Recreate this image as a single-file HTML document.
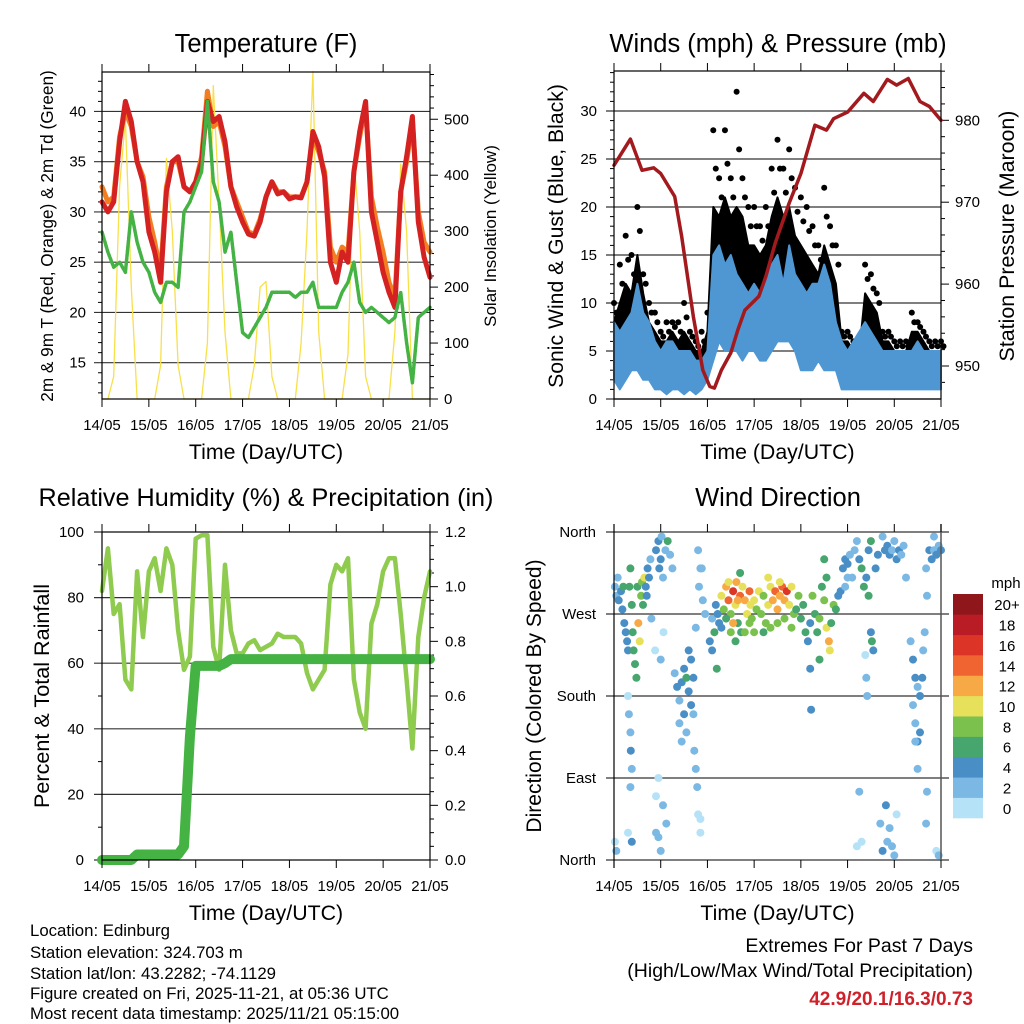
<!DOCTYPE html>
<html><head><meta charset="utf-8">
<style>
html,body{margin:0;padding:0;background:#fff;}
svg{display:block;font-family:"Liberation Sans",sans-serif;}
</style></head>
<body>
<svg id="fig" width="1024" height="1024" viewBox="0 0 1024 1024" xmlns="http://www.w3.org/2000/svg">
<rect x="0" y="0" width="1024" height="1024" fill="#fff"/>
<g id="p1"></g>
<g id="p2"></g>
<g id="p3"></g>
<g id="p4"></g>
<g id="txt">
<text x="30" y="936" font-size="16.8">Location: Edinburg</text>
<text x="30" y="958" font-size="16.8">Station elevation: 324.703 m</text>
<text x="30" y="979" font-size="16.8">Station lat/lon: 43.2282; -74.1129</text>
<text x="30" y="999" font-size="16.8">Figure created on Fri, 2025-11-21, at 05:36 UTC</text>
<text x="30" y="1019" font-size="16.8">Most recent data timestamp: 2025/11/21 05:15:00</text>
<text x="973" y="952" font-size="19.5" text-anchor="end">Extremes For Past 7 Days</text>
<text x="973" y="977" font-size="19.5" text-anchor="end">(High/Low/Max Wind/Total Precipitation)</text>
<text x="973" y="1005" font-size="19" font-weight="bold" fill="#d0202a" text-anchor="end">42.9/20.1/16.3/0.73</text>
</g>
</svg>
<script>
// ---------- data (3-hourly samples, day index 0..7) ----------
const dayLabels = ["14/05","15/05","16/05","17/05","18/05","19/05","20/05","21/05"];
const tempRed = [31,30,31,37,41,39,35,33, 28,26,23,32,35,35.5,32.5,32, 33,35,41,39,39.5,37,32.5,30.5, 29,27.8,27.6,29,31.5,33,31.8,32, 31.3,31.5,31.4,33,38,36.5,33.5,25, 23,26,25,34,38,41,30,27, 24,22,20.5,32,35.5,39.5,29,25.5,23.5];
const tempOrange = [32.5,31,31.5,37.5,40,38.5,35,33.5, 29.5,27,24,32.5,35,35,32.5,32, 33,35.5,42,38.5,39,36.5,32.5,31, 29.5,28,27.8,29.3,31.5,33,32,32, 31.5,31.5,31.5,33,37.5,36,34,26.5, 25,26.5,26,34,37.5,40.5,31.5,28.5, 26,23,21.5,32,35,39,30,27,26];
const dewGreen = [28,26,24.5,25,24,30,27,25, 24,22,21,23,23,22.5,30,31, 32.5,34,41,33,31,26,28,23, 18,17.5,18.5,19.5,20.5,22,22,22, 22,21.5,22,22,23,20.5,20.5,20.5, 20.5,22,23,25,21,20,20.5,20, 19.5,19,19.5,22,17,13,19.5,20,20.5];
const solar = [0,0,40,380,500,200,0,0, 0,0,60,430,300,60,0,0, 0,0,100,560,350,120,0,0, 0,0,60,200,210,40,0,0, 0,0,100,300,585,120,0,0, 0,0,80,430,300,40,0,0, 0,0,120,420,300,0,0,0,0];
const tempTicks = [15,20,25,30,35,40];
const solarTicks = [0,100,200,300,400,500];

const presT = [0,0.35,0.6,0.85,1.0,1.3,1.45,1.7,1.9,2.05,2.15,2.3,2.5,2.65,2.8,3.1,3.25,3.45,3.75,4.0,4.3,4.55,4.7,5.0,5.35,5.55,5.85,6.05,6.3,6.55,6.75,7.0];
const presV = [974.5,977.7,973.9,974.2,973.5,970.7,965.8,956,949.5,947.5,947.3,949.5,951.6,954.4,956.8,958.5,960.9,965,969.9,973.5,979.4,978.8,980.2,981,983.3,982.3,985,984.3,985.1,982.3,981.7,980];
const windLo = [2,1,2,3,3,2,2,1, 1,0.5,1,1,0.5,1,0.5,1, 2,4,6,5,5,5,4,5, 5,4,4,5,6,6,6,5, 3,3,3,4,3,3,3,1, 1,1,1,1,1,1,1,1, 1,1,1,1,1,1,1,1,1];
const windHi = [8,7,8,9,12,9,8,6, 5,6,6,5,5,5,4,4, 5,15,16,14,15,13,12,11, 12,11,12,14,15,12,16,13, 12,11,12,12,14,12,8,6, 5,6,7,8,7,6,5,5, 5,5,5,5,6,5,5,5,5];
const gustLo = [5,6,6,8,10,7,5,4, 4,3,4,3,3,3,2,3, 4,8,10,10,10,10,10,9, 8,7,8,9,10,10,10,9, 8,7,7,7,8,7,6,4, 4,3,3,6,5,5,4,4, 4,4,4,4,4,4,4,4,4];
const gustMid = [8,10,12,11,15,11,8,7, 6,6,7,6,7,6,5,5, 7,20,19,21,19,20,19,16, 16,15,16,19,21,19,20,17, 16,15,14,13,16,14,12,6, 6,5,5,11,10,9,6,6, 5,5,5,7,7,6,5,5,5];
const gustHi = [10,14,17,15,20,13,10,9, 7,8,8,8,10,7,6,7, 9,28,23,28,23,32,23,20, 20,18,20,24,27,24,26,22, 21,20,18,16,22,18,16,7, 7,6,6,14,13,11,7,7, 6,6,6,9,8,7,6,6,6];
const windTicks = [0,5,10,15,20,25,30];
const presTicks = [950,960,970,980];

const rh = [82,95,75,78,55,52,88,68, 88,92,82,95,90,70,58,62, 98,99,99,65,58,90,70,63, 63,66,67,64,65,66,69,68, 68,68,66,57,52,55,58,84, 90,88,92,55,45,40,72,78, 88,92,92,75,55,34,68,80,88];
const precip = [0,0,0,0,0,0,0.02,0.02, 0.02,0.02,0.02,0.02,0.02,0.02,0.05,0.45, 0.71,0.71,0.71,0.71,0.71,0.72,0.735,0.735, 0.735,0.735,0.735,0.735,0.735,0.735,0.735,0.735, 0.735,0.735,0.735,0.735,0.735,0.735,0.735,0.735, 0.735,0.735,0.735,0.735,0.735,0.735,0.735,0.735, 0.735,0.735,0.735,0.735,0.735,0.735,0.735,0.735,0.735];
const rhTicks = [0,20,40,60,80,100];
const prTicks = ["0.0","0.2","0.4","0.6","0.8","1.0","1.2"];

const dirT = [0.02,0.05,0.08,0.1,0.15,0.18,0.2,0.22,0.25,0.28,0.3,0.33,0.35,0.38,0.4,0.42,0.45,0.48,0.5,0.52,0.55,0.58,0.6,0.62,0.65,0.68,0.7,0.72,0.75,0.78,0.8,0.9,0.95,0.97,1.0,1.02,1.05,1.1,1.15,1.2,1.25,
0.02,0.05,0.3,0.32,0.35,0.36,0.38,0.35,0.3,0.38,0.9,0.95,1.0,0.9,0.95,1.05,1.12,0.88,1.06,1.0,
1.3,1.35,1.4,1.45,1.5,1.55,1.6,1.65,1.4,1.45,1.5,1.55,1.6,1.65,1.7,1.7,1.72,1.75,1.78,1.8,1.85,1.85,1.8,1.82,1.88,1.9,1.95,1.75,1.85,
2.05,2.1,2.15,2.2,2.25,2.1,2.18,2.22,2.3,
2.3,2.35,2.4,2.45,2.5,2.55,2.6,2.62,2.65,2.7,2.72,2.75,2.8,2.85,2.9,2.92,2.95,3.0,3.05,3.1,2.4,2.5,2.6,2.7,2.8,2.9,3.0,2.45,2.55,2.65,
3.15,3.2,3.25,3.3,3.35,3.4,3.45,3.5,3.55,3.6,3.65,3.7,3.75,3.8,3.85,3.2,3.35,3.5,3.65,3.8,3.9,3.95,3.3,3.55,
4.0,4.05,4.1,4.15,4.2,4.25,4.3,4.35,4.4,4.45,4.5,4.55,4.6,4.62,4.65,4.7,4.75,4.8,4.85,4.2,4.22,4.5,4.4,4.55,
4.9,4.95,5.0,5.05,5.1,5.15,5.2,5.25,5.3,5.35,5.4,5.45,5.5,5.52,5.55,5.4,5.42,5.38,5.45,5.5,5.6,5.65,4.95,5.0,5.25,5.3,5.2,
5.75,5.8,5.85,5.9,5.95,6.0,6.05,6.1,6.15,6.2,5.7,5.75,5.85,5.9,5.95,6.0,5.82,6.05,6.25,
6.35,6.4,6.45,6.5,6.4,6.45,6.5,6.55,6.6,6.62,6.65,6.55,6.5,6.45,6.7,6.68,6.7,6.68,
6.75,6.8,6.85,6.9,6.95,7.0,6.9,6.95,6.85];
const dirD = [300,290,310,285,295,275,300,260,250,240,230,300,320,280,250,230,215,200,300,260,240,290,305,280,310,300,290,320,310,330,265,340,350,320,330,355,310,340,350,335,320,
20,10,180,160,140,120,100,80,30,20,30,25,10,70,90,60,40,230,250,220,
205,190,175,195,210,200,185,170,150,130,160,140,230,220,200,160,120,100,80,50,30,320,340,300,320,285,270,255,45,
240,230,250,210,260,265,280,270,255,
290,275,300,285,270,295,280,305,260,290,250,300,285,270,295,280,265,285,275,295,265,250,240,315,250,260,250,305,260,285,
270,290,260,280,300,285,295,275,290,300,285,295,280,300,270,250,255,260,265,255,275,290,310,305,
265,280,250,240,260,290,270,250,265,300,285,255,240,230,260,280,275,290,295,210,165,330,220,310,
320,330,325,335,310,340,350,330,320,300,310,290,250,240,230,200,180,225,340,350,320,335,300,310,75,20,15,
355,340,345,335,340,350,330,340,335,345,40,10,20,35,15,5,60,50,310,
240,220,200,190,170,150,130,180,200,230,250,140,100,130,290,320,75,40,
340,330,340,335,345,340,10,5,355];
const dirS = [3,3,2,4,5,4,6,4,4,5,4,6,6,6,7,7,6,7,7,12,10,8,9,6,10,5,4,4,5,3,3,4,4,5,4,3,3,3,6,3,2,
1,2,1,2,3,4,3,3,1,4,2,3,3,1,1,2,2,1,1,2,
3,4,3,5,4,6,5,4,3,3,4,3,4,5,4,3,2,2,2,1,1,2,2,2,2,3,3,3,1,
4,5,6,6,4,3,5,5,4,
10,8,12,14,9,16,10,12,7,14,6,10,13,11,15,10,8,10,9,11,7,8,7,7,8,9,8,10,13,12,
8,9,8,10,11,12,14,12,13,15,12,16,10,11,9,7,8,9,8,8,6,8,10,11,
6,7,6,5,4,8,6,6,8,7,9,10,12,10,6,8,7,5,5,4,4,6,6,7,
4,4,4,3,2,3,2,4,6,6,5,6,4,6,4,2,2,1,5,6,4,4,2,2,2,1,1,
3,4,4,4,3,3,4,4,3,2,3,4,3,2,2,2,4,1,2,
3,4,4,3,3,3,4,4,4,3,3,4,2,2,3,3,3,2,
4,4,3,4,3,4,1,2,2];
const speedLabels = ["0","2","4","6","8","10","12","14","16","18","20+"];
const speedColors = ["#b5e2f7","#7bb9e4","#4a8ec6","#47a56e","#7bc14d","#e7e05a","#f6a944","#ef6430","#dc3427","#ba1c25","#8f161a"];
const dirTicks = ["North","East","South","West","North"];

// ---------- helpers ----------
const NS="http://www.w3.org/2000/svg";
function mk(parent,tag,attrs){const e=document.createElementNS(NS,tag);for(const k in attrs)e.setAttribute(k,attrs[k]);parent.appendChild(e);return e;}
function tx(parent,x,y,s,size,anchor,rot){const e=mk(parent,'text',{x:x,y:y,'font-size':size,'text-anchor':anchor||'middle',fill:'#000'});if(rot)e.setAttribute('transform','rotate(-90 '+x+' '+y+')');e.textContent=s;return e;}
function times(n){const a=[];for(let i=0;i<n;i++)a.push(i*0.125);return a;}

function frame(g,X0,X1,Y0,Y1){
  mk(g,'rect',{x:X0,y:Y0,width:X1-X0,height:Y1-Y0,fill:'none',stroke:'#000','stroke-width':1.2});
}
function xAxis(g,X0,X1,Y0,Y1,title){
  for(let d=0;d<dayLabels.length;d++){
    const x=X0+d*(X1-X0)/7;
    const t=mk(g,'line',{x1:x,x2:x,y1:Y1,y2:Y1+8,stroke:'#000','stroke-width':1});
    
    mk(g,'line',{x1:x,x2:x,y1:Y0,y2:Y0-8,stroke:'#000','stroke-width':1});
    const l=tx(g,x,Y1+31,dayLabels[d],15);
    
  }
  const tt=tx(g,(X0+X1)/2,Y1+60,title,21.3);
  
}
function hgrid(g,X0,X1,y,col){
  const l=mk(g,'line',{x1:X0-8,x2:X1,y1:y,y2:y,stroke:col||'#333','stroke-width':1.2});
  
}
function poly(g,xs,ys,attrs,name){
  const pts=xs.map((x,i)=>x.toFixed(1)+','+ys[i].toFixed(1)).join(' ');
  const p=mk(g,'polyline',Object.assign({points:pts,fill:'none','stroke-linejoin':'round','stroke-linecap':'round'},attrs));
  return p;
}

// ---------- Panel 1: temperature ----------
(function(){
  const g=document.getElementById('p1');
  const X0=102,X1=430,Y0=72,Y1=399;
  const xs=d=>X0+d*(X1-X0)/7;
  const yT=v=>362.7-(v-15)*10.05;
  const yS=v=>399-v*0.5595;
  const t=times(tempRed.length);
  tx(g,266,52,'Temperature (F)',25.5);
  tempTicks.forEach(v=>{hgrid(g,X0,X1,yT(v));const l=tx(g,86,yT(v)+5,String(v),15,'end');});
  for(let v=12;v<=43;v++){if(v%5)mk(g,'line',{x1:X0-4,x2:X0,y1:yT(v),y2:yT(v),stroke:'#000'});}
  solarTicks.forEach(v=>{mk(g,'line',{x1:X1,x2:X1+8,y1:yS(v),y2:yS(v),stroke:'#000'});const l=tx(g,444,yS(v)+5,String(v),15,'start');});
  for(let v=20;v<=580;v+=20){if(v%100)mk(g,'line',{x1:X1,x2:X1+4,y1:yS(v),y2:yS(v),stroke:'#000'});}
  poly(g,t.map(xs),solar.map(yS),{stroke:'#f8e04a','stroke-width':1.3},'solar-line');
  poly(g,t.map(xs),tempOrange.map(yT),{stroke:'#f37e22','stroke-width':5},'temp-9m-line');
  poly(g,t.map(xs),tempRed.map(yT),{stroke:'#d42222','stroke-width':5},'temp-2m-line');
  poly(g,t.map(xs),dewGreen.map(yT),{stroke:'#44b244','stroke-width':3.5,'stroke-dasharray':'3 1.5'},'dewpoint-line');
  frame(g,X0,X1,Y0,Y1);
  xAxis(g,X0,X1,Y0,Y1,'Time (Day/UTC)');
  tx(g,53,236,'2m & 9m T (Red, Orange) & 2m Td (Green)',17.2,'middle',true);
  tx(g,496,236,'Solar Insolation (Yellow)',17,'middle',true);
})();

// ---------- Panel 2: winds & pressure ----------
(function(){
  const g=document.getElementById('p2');
  const X0=614,X1=941,Y0=71,Y1=399;
  const xs=d=>X0+d*(X1-X0)/7;
  const yW=v=>399-v*9.6;
  const yP=v=>366-(v-950)*8.19;
  const t=times(windLo.length);
  tx(g,778,52,'Winds (mph) & Pressure (mb)',25.5);
  windTicks.forEach(v=>{hgrid(g,X0,X1,yW(v));const l=tx(g,597,yW(v)+5,String(v),15,'end');});
  for(let v=1;v<=34;v++){if(v%5)mk(g,'line',{x1:X0-4,x2:X0,y1:yW(v),y2:yW(v),stroke:'#000'});}
  presTicks.forEach(v=>{mk(g,'line',{x1:X1,x2:X1+8,y1:yP(v),y2:yP(v),stroke:'#000'});const l=tx(g,955,yP(v)+5,String(v),15,'start');});
  for(let v=948;v<=986;v+=2){if(v%10)mk(g,'line',{x1:X1,x2:X1+4,y1:yP(v),y2:yP(v),stroke:'#000'});}
  const band=(lo,hi,col,name)=>{
    const pts=t.map((d,i)=>xs(d).toFixed(1)+','+yW(hi[i]).toFixed(1)).concat(t.slice().reverse().map((d,j)=>{const i=t.length-1-j;return xs(d).toFixed(1)+','+yW(lo[i]).toFixed(1);})).join(' ');
    const p=mk(g,'polygon',{points:pts,fill:col,stroke:col,'stroke-width':2,'stroke-linejoin':'round'});
    
  };
  band(gustLo,gustMid,'#000','gust-band');
  t.forEach((d,i)=>{
    const c=mk(g,'circle',{cx:xs(d),cy:yW(gustHi[i]),r:3,fill:'#000'});
    
    
    const c2=mk(g,'circle',{cx:xs(d)+2.5,cy:yW((gustHi[i]+gustMid[i])/2),r:3,fill:'#000'});
    
    
  });
  band(windLo,windHi,'#4f97d2','sonic-wind-band');
  poly(g,presT.map(xs),presV.map(yP),{stroke:'#a31a1e','stroke-width':3.5},'pressure-line');
  frame(g,X0,X1,Y0,Y1);
  xAxis(g,X0,X1,Y0,Y1,'Time (Day/UTC)');
  tx(g,563,236,'Sonic Wind & Gust (Blue, Black)',21.2,'middle',true);
  tx(g,1014,236,'Station Pressure (Maroon)',21.4,'middle',true);
})();

// ---------- Panel 3: RH & precip ----------
(function(){
  const g=document.getElementById('p3');
  const X0=102,X1=430,Y0=532,Y1=860;
  const xs=d=>X0+d*(X1-X0)/7;
  const yR=v=>860-v*3.28;
  const yPr=v=>860-v*273.33;
  const t=times(rh.length);
  tx(g,266,506,'Relative Humidity (%) & Precipitation (in)',25.2);
  rhTicks.forEach(v=>{if(v>0&&v<100)hgrid(g,X0,X1,yR(v));else mk(g,'line',{x1:X0-8,x2:X0,y1:yR(v),y2:yR(v),stroke:'#000'});const l=tx(g,84,yR(v)+5,String(v),15,'end');});
  for(let v=10;v<100;v+=20)mk(g,'line',{x1:X0-4,x2:X0,y1:yR(v),y2:yR(v),stroke:'#000'});
  prTicks.forEach(s=>{const v=parseFloat(s);mk(g,'line',{x1:X1,x2:X1+8,y1:yPr(v),y2:yPr(v),stroke:'#000'});const l=tx(g,445,yPr(v)+5,s,15,'start');});
  for(let v=0.05;v<1.2;v+=0.05){if(Math.round(v*100)%20)mk(g,'line',{x1:X1,x2:X1+4,y1:yPr(v),y2:yPr(v),stroke:'#000'});}
  poly(g,t.map(xs),rh.map(yR),{stroke:'#8ecb4f','stroke-width':4.5},'humidity-line');
  poly(g,t.map(xs),precip.map(yPr),{stroke:'#45b244','stroke-width':10},'precip-line');
  frame(g,X0,X1,Y0,Y1);
  xAxis(g,X0,X1,Y0,Y1,'Time (Day/UTC)');
  tx(g,49,696,'Percent & Total Rainfall',21.6,'middle',true);
})();

// ---------- Panel 4: wind direction ----------
(function(){
  const g=document.getElementById('p4');
  const X0=614,X1=941,Y0=532,Y1=860;
  const xs=d=>X0+d*(X1-X0)/7;
  const yD=v=>860-v/360*328;
  tx(g,778,506,'Wind Direction',25.5);
  dirTicks.forEach((s,i)=>{const y=yD(i*90);hgrid(g,X0,X1+8,y);const l=tx(g,596,y+5,s,15,'end');});
  dirT.forEach((d,i)=>{
    const bin=Math.min(10,Math.floor(dirS[i]/2));
    const c=mk(g,'circle',{cx:xs(d).toFixed(1),cy:yD(dirD[i]).toFixed(1),r:4,fill:speedColors[bin]});
    
    
  });
  mk(g,'line',{x1:X0,x2:X0,y1:Y0-8,y2:Y1+8,stroke:'#000','stroke-width':1.2});
  mk(g,'line',{x1:X1,x2:X1,y1:Y0-8,y2:Y1,stroke:'#555','stroke-width':1.5});
  xAxis(g,X0,X1,Y0,Y1,'Time (Day/UTC)');
  tx(g,541,696,'Direction (Colored By Speed)',21,'middle',true);
  const cb=mk(g,'g',{});
  const bh=(818-594)/speedColors.length;
  speedColors.forEach((col,i)=>{
    const y=818-(i+1)*bh;
    const r=mk(cb,'rect',{x:953,y:y,width:30,height:bh+0.3,fill:col});
    
    const l=tx(cb,1007,y+bh/2+6,speedLabels[i],15);
    
  });
  tx(cb,1006,588,'mph',15);
})();
</script>
</body></html>
